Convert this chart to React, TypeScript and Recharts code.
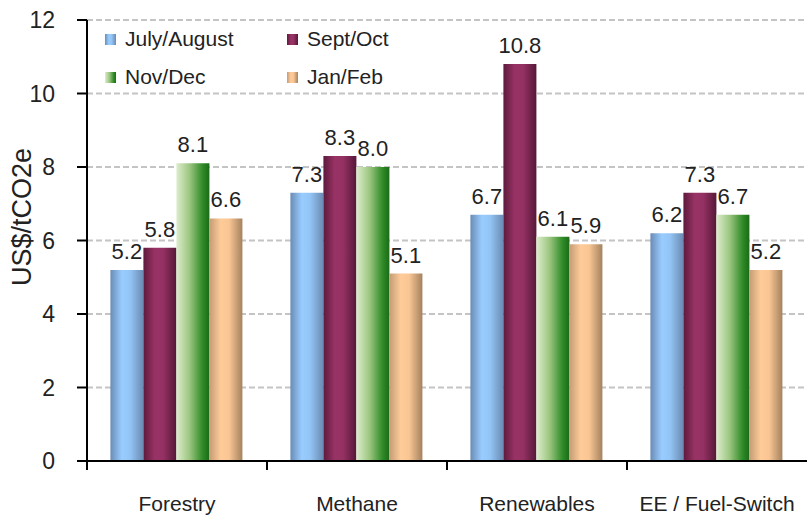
import React from "react";
import {
  BarChart,
  Bar,
  XAxis,
  YAxis,
  CartesianGrid,
  LabelList,
  Legend,
  Label,
} from "recharts";

const categories = ["Forestry", "Methane", "Renewables", "EE / Fuel-Switch"];
const julyAugust = [5.2, 7.3, 6.7, 6.2];
const septOct = [5.8, 8.3, 10.8, 7.3];
const novDec = [8.1, 8.0, 6.1, 6.7];
const janFeb = [6.6, 5.1, 5.9, 5.2];
const yTicks = [0, 2, 4, 6, 8, 10, 12];

const seriesKeys = ["julyAugust", "septOct", "novDec", "janFeb"];
const seriesNames = ["July/August", "Sept/Oct", "Nov/Dec", "Jan/Feb"];

const FONT = "'Liberation Sans', Arial, sans-serif";

// horizontal gradient stops per series
const gradients: { id: string; stops: [number, string][] }[] = [
  {
    id: "gBlue",
    stops: [
      [0, "#6a8cb6"],
      [0.35, "#99ccff"],
      [0.6, "#93c4f5"],
      [1, "#6a8ab2"],
    ],
  },
  {
    id: "gMaroon",
    stops: [
      [0, "#5e1a3c"],
      [0.35, "#993366"],
      [0.6, "#943163"],
      [1, "#561838"],
    ],
  },
  {
    id: "gGreen",
    stops: [
      [0, "#dcedcc"],
      [0.4, "#9cc680"],
      [0.8, "#2e8a26"],
      [1, "#1c6b18"],
    ],
  },
  {
    id: "gTan",
    stops: [
      [0, "#c49c76"],
      [0.35, "#ffcc99"],
      [0.6, "#f8c593"],
      [1, "#a4825f"],
    ],
  },
];

const data = categories.map((name, i) => ({
  name,
  julyAugust: julyAugust[i],
  septOct: septOct[i],
  novDec: novDec[i],
  janFeb: janFeb[i],
}));

const cssGradient = (stops: [number, string][]) =>
  `linear-gradient(to right, ${stops.map(([o, c]) => `${c} ${o * 100}%`).join(", ")})`;

const renderLegend = () => (
  <div
    style={{
      display: "grid",
      gridTemplateColumns: "182px 150px",
      fontFamily: FONT,
      fontSize: 21,
      color: "#222",
    }}
  >
    {seriesNames.map((n, i) => (
      <div key={n} style={{ display: "flex", alignItems: "center", height: 38 }}>
        <span
          style={{
            display: "inline-block",
            width: 11,
            height: 11,
            marginRight: 9,
            background: cssGradient(gradients[i].stops),
          }}
        />
        {n}
      </div>
    ))}
  </div>
);

const CategoryTick = (props: any) => {
  const { x, y, payload } = props;
  const half = payload.offset || 90;
  return (
    <g>
      <line x1={x - half} x2={x - half} y1={y} y2={y + 9} stroke="#000" strokeWidth={2} />
      <text
        x={x}
        y={y + 50}
        textAnchor="middle"
        fontFamily={FONT}
        fontSize={21}
        fill="#222"
      >
        {payload.value}
      </text>
    </g>
  );
};

export default function App() {
  return (
    <div style={{ position: "fixed", left: 0, top: 0, background: "#fff" }}>
      <BarChart
        width={807}
        height={519}
        data={data}
        margin={{ top: 20, right: 0, bottom: 0, left: 0 }}
        barCategoryGap="13%"
        barGap={0}
      >
        <defs>
          {gradients.map((g) => (
            <linearGradient key={g.id} id={g.id} x1="0" y1="0" x2="1" y2="0">
              {g.stops.map(([o, c]) => (
                <stop key={o} offset={o} stopColor={c} />
              ))}
            </linearGradient>
          ))}
        </defs>
        <CartesianGrid
          vertical={false}
          stroke="#c4c4c4"
          strokeWidth={2}
          strokeDasharray="6 3"
        />
        <XAxis
          dataKey="name"
          height={58}
          axisLine={{ stroke: "#000", strokeWidth: 2 }}
          tickLine={false}
          tickSize={0}
          tickMargin={0}
          tick={<CategoryTick />}
          interval={0}
        />
        <YAxis
          width={87}
          domain={[0, 12]}
          ticks={yTicks}
          interval={0}
          axisLine={{ stroke: "#000", strokeWidth: 2 }}
          tickLine={{ stroke: "#000", strokeWidth: 2 }}
          tickSize={10}
          tickMargin={22}
          tick={{ fontFamily: FONT, fontSize: 23, fill: "#222" }}
        >
          <Label
            content={() => (
              <text
                transform="translate(22,217) rotate(-90)"
                textAnchor="middle"
                dominantBaseline="central"
                fontFamily={FONT}
                fontSize={27}
                fill="#222"
              >
                US$/tCO2e
              </text>
            )}
          />
        </YAxis>
        <Legend
          layout="horizontal"
          align="center"
          verticalAlign="middle"
          content={renderLegend}
          wrapperStyle={{ top: 20, left: 105, width: 340 }}
        />
        {seriesKeys.map((k, i) => (
          <Bar
            key={k}
            dataKey={k}
            name={seriesNames[i]}
            fill={`url(#${gradients[i].id})`}
            isAnimationActive={false}
          >
            <LabelList
              dataKey={k}
              position="top"
              offset={11}
              formatter={(v: any) => Number(v).toFixed(1)}
              style={{ fontFamily: FONT, fontSize: 22, fill: "#222" }}
            />
          </Bar>
        ))}
      </BarChart>
    </div>
  );
}
